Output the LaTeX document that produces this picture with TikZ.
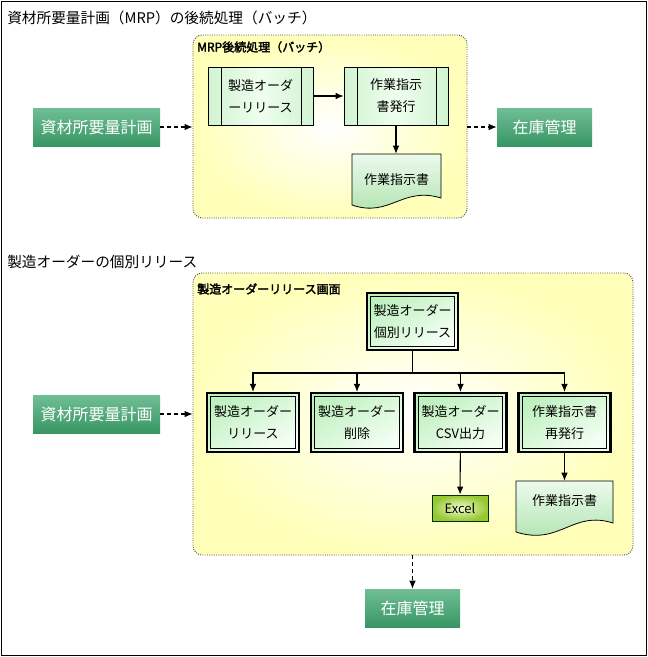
\documentclass[tikz,border=0pt]{standalone}
\usepackage{fontspec}
\setmainfont[AutoFakeBold=2.5]{Noto Sans CJK JP}
\usetikzlibrary{arrows.meta,calc}
\definecolor{grpyellow}{RGB}{255,255,186}
\definecolor{gbtop}{RGB}{112,190,150}
\definecolor{gbbot}{RGB}{56,150,100}
\definecolor{ppgreen}{RGB}{210,244,210}
\definecolor{ppmid}{RGB}{238,254,238}
\definecolor{dbtop}{RGB}{190,240,190}
\definecolor{dbbot}{RGB}{246,255,246}
\definecolor{doctop}{RGB}{236,250,236}
\definecolor{docbot}{RGB}{172,226,172}
\definecolor{xlin}{RGB}{244,252,206}
\definecolor{xlout}{RGB}{150,200,50}
\begin{document}
\begin{tikzpicture}[x=0.75pt,y=-0.75pt,
  font=\fontsize{9.75}{16.5}\selectfont,
  sz/.style 2 args={minimum width=#1*0.75pt, minimum height=#2*0.75pt, inner sep=0pt},
  grp/.style={rounded corners=7pt, draw=black!70, densely dotted, line width=0.7pt,
    inner color=white, outer color=grpyellow},
  grplabel/.style={anchor=west, inner sep=0pt, font=\fontsize{9}{11}\selectfont\bfseries},
  title/.style={anchor=west, inner sep=0pt, font=\fontsize{11}{13}\selectfont},
  gbox/.style={top color=gbtop, bottom color=gbbot, draw=none, text=white,
    font=\fontsize{12}{14}\selectfont},
  pp/.style={draw=black, line width=0.6pt, left color=ppgreen, right color=ppgreen,
    middle color=ppmid, align=center,
    path picture={\draw[line width=0.6pt]
      ([xshift=10pt]path picture bounding box.north west) -- ([xshift=10pt]path picture bounding box.south west)
      ([xshift=-9pt]path picture bounding box.north east) -- ([xshift=-9pt]path picture bounding box.south east);}},
  dbox/.style={draw=black, line width=1.6pt, top color=dbtop, bottom color=dbbot,
    shading angle=30, align=center,
    path picture={\draw[line width=0.6pt]
      ([shift={(2.9pt,-2.9pt)}]path picture bounding box.north west) rectangle
      ([shift={(-2.9pt,2.9pt)}]path picture bounding box.south east);}},
  docsh/.style={draw=black, line width=0.6pt, top color=doctop, bottom color=docbot},
  xlbox/.style={draw=black!80!green, line width=0.7pt, inner color=xlin, outer color=xlout},
  arr/.style={-{Latex[length=6pt,width=5pt]}, line width=0.8pt},
  darr/.style={arr, dash pattern=on 3pt off 2.2pt}
]
\useasboundingbox (0,0) rectangle (648,657);
\draw[line width=0.75pt] (1,1) rectangle (646,655);

% ---------- section 1 ----------
\node[title] (t1) at (7,18) {資材所要量計画（MRP）の後続処理（バッチ）};
\node[grp, sz={274}{183}] (g1) at (330,126.5) {};
\node[grplabel] (g1l) at (197,47) {MRP後続処理（バッチ）};

\node[pp, sz={105}{58}] (rel) at (260.5,96) {製造オーダ\\ーリリース};
\node[pp, sz={104}{58}] (iss) at (396,96) {作業指示\\書発行};

\path[docsh] (352,154) -- (441,154) -- (441,198) .. controls (402,186) and (390,218) .. (352,205) -- cycle;
\node[sz={89}{52}] (doc1) at (396.5,180) {作業指示書};

\node[gbox, sz={127}{38}] (mrp1) at (96.5,127) {資材所要量計画};
\node[gbox, sz={95}{38}] (inv1) at (544.5,127) {在庫管理};

\draw[arr] (rel) -- (iss);
\draw[arr] (iss.south) -- (iss.south |- doc1.north);
\draw[darr] (mrp1.east) -- (mrp1.east -| g1.west);
\draw[darr] (g1.east |- inv1.west) -- (inv1.west);

% ---------- section 2 ----------
\node[title] (t2) at (7,262) {製造オーダーの個別リリース};
\node[grp, sz={440}{282}] (g2) at (413,414) {};
\node[grplabel] (g2l) at (197,289) {製造オーダーリリース画面};

\node[dbox, sz={91}{57}] (top) at (412.5,321.5) {製造オーダー\\個別リリース};
\node[dbox, sz={92}{59}] (b1) at (253,422.5) {製造オーダー\\リリース};
\node[dbox, sz={92}{59}] (b2) at (357,422.5) {製造オーダー\\削除};
\node[dbox, sz={92}{59}] (b3) at (460.5,422.5) {製造オーダー\\CSV出力};
\node[dbox, sz={92}{59}] (b4) at (564.5,422.5) {作業指示書\\再発行};

\coordinate (br) at (412.5,373);
\draw[line width=0.8pt] (top.south) -- (br);
\foreach \b in {b1,b2,b3,b4} \draw[arr] (br) -| (\b);

\node[xlbox, sz={56}{26}] (xl) at (460,508) {Excel};
\draw[arr] (b3) -- (xl);

\path[docsh] (516,481) -- (613,481) -- (613,523) .. controls (572,510) and (560,546) .. (516,532) -- cycle;
\node[sz={97}{40}] (doc2) at (564.5,501) {作業指示書};
\draw[arr] (b4.south) -- (b4.south |- doc2.north);

\node[gbox, sz={127}{38}] (mrp2) at (96.5,414) {資材所要量計画};
\node[gbox, sz={95}{38}] (inv2) at (412.5,608) {在庫管理};

\draw[darr] (mrp2.east) -- (mrp2.east -| g2.west);
\draw[darr] (g2.south -| inv2.north) -- (inv2.north);
\end{tikzpicture}
\end{document}
